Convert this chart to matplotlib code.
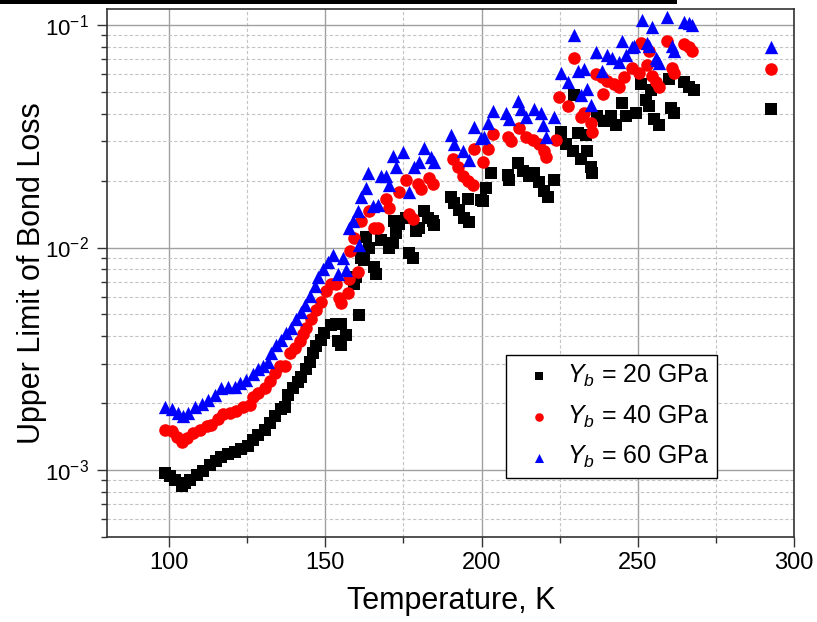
import matplotlib
matplotlib.use("Agg")
import matplotlib.pyplot as plt
from matplotlib.ticker import LogLocator, MultipleLocator, NullFormatter, LogFormatterSciNotation
from matplotlib.patches import Rectangle

plt.rcParams['font.family'] = ['Liberation Sans', 'DejaVu Sans']
plt.rcParams['mathtext.fontset'] = 'custom'
plt.rcParams['mathtext.rm'] = 'Liberation Sans'
plt.rcParams['mathtext.it'] = 'Liberation Sans:italic'
plt.rcParams['mathtext.bf'] = 'Liberation Sans:bold'

# ---------------- data ----------------
T_20 = [98.6, 100.2, 101.8, 104.0, 105.0, 106.6, 108.8, 110.8, 113.0, 115.1, 116.7, 118.8, 121.0,
        123.1, 125.1, 126.7, 128.3, 130.6, 132.2, 133.8, 135.9, 137.0, 137.9, 139.5, 141.1, 142.3,
        143.9, 145.0, 145.9, 147.1, 148.7, 149.7, 151.9, 153.5, 155.1, 156.7, 153.9, 155.1, 159.3,
        159.9, 160.9, 161.5, 162.5, 163.1, 164.1, 165.7, 166.3, 167.9, 170.5, 171.5, 172.1, 172.7,
        173.7, 175.8, 176.9, 178.0, 179.0, 180.1, 181.7, 182.7, 184.3, 184.9, 190.2, 191.3, 192.9,
        194.5, 195.5, 196.1, 199.8, 200.3, 201.4, 203.0, 208.3, 208.8, 211.5, 213.1, 215.2, 216.8,
        218.4, 220.0, 221.1, 223.2, 225.4, 227.0, 229.1, 229.6, 230.7, 231.8, 233.4, 233.9, 235.0,
        235.5, 237.1, 239.2, 241.3, 242.9, 245.0, 246.1, 249.3, 250.9, 252.5, 253.6, 254.1, 255.2,
        256.8, 260.0, 260.5, 261.6, 264.8, 266.4, 268.0, 292.5]
Y_20 = [9.7e-4, 9.4e-4, 9.0e-4, 8.5e-4, 8.7e-4, 9.0e-4, 9.5e-4, 9.9e-4, 1.05e-3, 1.10e-3, 1.15e-3,
        1.18e-3, 1.20e-3, 1.24e-3, 1.28e-3, 1.37e-3, 1.44e-3, 1.52e-3, 1.62e-3, 1.75e-3, 1.89e-3,
        1.91e-3, 2.17e-3, 2.34e-3, 2.49e-3, 2.63e-3, 2.84e-3, 3.06e-3, 3.34e-3, 3.60e-3, 3.84e-3,
        4.14e-3, 4.47e-3, 4.51e-3, 4.51e-3, 4.04e-3, 3.79e-3, 3.64e-3, 6.86e-3, 7.34e-3, 4.99e-3,
        8.95e-3, 8.79e-3, 1.12e-2, 9.97e-3, 8.18e-3, 7.62e-3, 1.08e-2, 1.0e-2, 1.05e-2, 1.32e-2,
        1.16e-2, 1.28e-2, 1.36e-2, 9.45e-3, 8.95e-3, 1.19e-2, 1.23e-2, 1.46e-2, 1.36e-2, 1.32e-2,
        1.26e-2, 1.69e-2, 1.58e-2, 1.48e-2, 1.36e-2, 1.66e-2, 1.30e-2, 1.63e-2, 1.61e-2, 1.86e-2,
        2.16e-2, 2.12e-2, 2.02e-2, 2.39e-2, 2.20e-2, 2.09e-2, 2.16e-2, 1.96e-2, 1.80e-2, 1.69e-2,
        2.02e-2, 3.32e-2, 2.91e-2, 2.72e-2, 4.84e-2, 3.27e-2, 2.51e-2, 3.21e-2, 2.72e-2, 2.31e-2,
        2.16e-2, 3.91e-2, 3.72e-2, 3.91e-2, 3.54e-2, 4.46e-2, 3.91e-2, 4.03e-2, 5.43e-2, 4.61e-2,
        4.31e-2, 5.09e-2, 3.78e-2, 3.54e-2, 5.71e-2, 4.25e-2, 4.03e-2, 5.52e-2, 5.26e-2, 5.09e-2,
        4.18e-2]

T_40 = [98.6, 100.8, 102.4, 104.0, 105.6, 107.7, 109.8, 112.0, 113.5, 115.7, 117.3, 119.4, 121.5,
        123.6, 125.8, 126.8, 128.4, 130.6, 132.2, 133.8, 135.4, 137.0, 138.6, 140.2, 141.8, 142.8,
        143.9, 145.5, 147.1, 148.7, 150.3, 151.9, 153.5, 154.5, 155.1, 157.2, 157.7, 158.0, 159.3,
        160.4, 161.4, 164.1, 165.7, 166.8, 169.5, 170.5, 173.7, 175.8, 176.9, 178.0, 179.6, 180.6,
        183.3, 184.3, 190.7, 192.3, 193.9, 195.5, 197.1, 197.6, 200.3, 201.9, 203.5, 208.3, 209.4,
        212.0, 214.2, 216.3, 218.4, 220.0, 220.6, 223.8, 224.8, 227.5, 229.6, 231.8, 232.8, 235.0,
        235.5, 236.5, 238.7, 239.0, 240.3, 242.4, 244.0, 245.6, 248.3, 250.4, 250.9, 253.0, 253.6,
        254.6, 255.7, 256.8, 259.4, 261.0, 261.6, 264.8, 266.4, 267.4, 292.5]
Y_40 = [1.52e-3, 1.49e-3, 1.41e-3, 1.34e-3, 1.39e-3, 1.46e-3, 1.52e-3, 1.57e-3, 1.60e-3, 1.69e-3,
        1.78e-3, 1.81e-3, 1.85e-3, 1.91e-3, 1.95e-3, 2.13e-3, 2.21e-3, 2.33e-3, 2.50e-3, 2.74e-3,
        2.94e-3, 2.94e-3, 3.34e-3, 3.52e-3, 3.79e-3, 4.07e-3, 4.37e-3, 4.78e-3, 5.23e-3, 5.71e-3,
        6.37e-3, 6.86e-3, 6.86e-3, 5.92e-3, 5.61e-3, 6.25e-3, 7.21e-3, 9.61e-3, 1.10e-2, 7.75e-3,
        1.32e-2, 1.46e-2, 1.22e-2, 1.23e-2, 1.66e-2, 1.50e-2, 1.77e-2, 2.02e-2, 1.41e-2, 1.34e-2,
        1.93e-2, 1.83e-2, 2.06e-2, 1.93e-2, 2.51e-2, 2.31e-2, 2.09e-2, 1.99e-2, 1.90e-2, 2.77e-2,
        2.43e-2, 2.77e-2, 3.24e-2, 3.15e-2, 3.00e-2, 3.43e-2, 3.15e-2, 3.05e-2, 2.91e-2, 2.72e-2,
        2.55e-2, 3.05e-2, 4.76e-2, 4.31e-2, 7.08e-2, 3.85e-2, 4.03e-2, 3.61e-2, 3.32e-2, 6.00e-2,
        5.81e-2, 4.92e-2, 5.62e-2, 5.43e-2, 5.26e-2, 5.81e-2, 6.41e-2, 6.10e-2, 8.34e-2, 6.62e-2,
        7.68e-2, 5.91e-2, 5.52e-2, 5.26e-2, 8.48e-2, 6.41e-2, 6.10e-2, 8.20e-2, 7.94e-2, 7.68e-2,
        6.35e-2]

T_60 = [98.6, 100.8, 102.9, 104.5, 106.1, 108.2, 110.4, 112.5, 114.6, 116.7, 118.9, 121.0, 122.6,
        124.7, 126.8, 128.4, 130.0, 131.6, 132.7, 134.3, 135.9, 137.5, 139.1, 140.7, 142.3, 143.4,
        145.0, 146.6, 147.6, 149.2, 150.8, 152.4, 154.0, 155.6, 156.7, 157.7, 158.8, 160.4, 160.9,
        161.5, 163.1, 163.6, 165.2, 166.8, 167.9, 169.5, 170.5, 171.6, 172.7, 174.8, 176.9, 178.5,
        180.1, 181.7, 183.8, 184.9, 190.2, 191.3, 193.9, 196.1, 197.7, 199.8, 200.9, 201.9, 203.5,
        207.8, 208.8, 211.5, 212.6, 214.2, 216.8, 219.0, 219.5, 220.6, 223.2, 225.4, 227.5, 229.6,
        230.7, 231.8, 232.8, 233.9, 235.0, 236.5, 238.7, 240.3, 241.9, 244.0, 245.0, 246.1, 248.3,
        248.8, 251.4, 253.0, 253.6, 254.6, 255.7, 256.2, 256.8, 259.4, 261.0, 261.6, 264.8, 266.4,
        267.4, 292.5]
Y_60 = [1.91e-3, 1.88e-3, 1.81e-3, 1.75e-3, 1.81e-3, 1.91e-3, 1.99e-3, 2.06e-3, 2.17e-3, 2.33e-3,
        2.37e-3, 2.37e-3, 2.46e-3, 2.55e-3, 2.69e-3, 2.84e-3, 2.94e-3, 3.05e-3, 3.34e-3, 3.65e-3,
        3.85e-3, 4.14e-3, 4.37e-3, 4.78e-3, 5.13e-3, 5.52e-3, 6.03e-3, 6.71e-3, 7.34e-3, 8.04e-3,
        8.63e-3, 9.27e-3, 7.62e-3, 8.95e-3, 7.89e-3, 1.22e-2, 1.32e-2, 1.46e-2, 1.03e-2, 1.69e-2,
        1.86e-2, 2.16e-2, 1.53e-2, 1.55e-2, 2.09e-2, 2.09e-2, 1.90e-2, 2.59e-2, 2.31e-2, 2.68e-2,
        1.77e-2, 2.31e-2, 2.43e-2, 2.81e-2, 2.55e-2, 2.43e-2, 3.21e-2, 2.91e-2, 2.72e-2, 2.47e-2,
        3.48e-2, 3.10e-2, 3.15e-2, 3.61e-2, 4.11e-2, 4.03e-2, 3.78e-2, 4.54e-2, 4.18e-2, 3.85e-2,
        4.18e-2, 4.03e-2, 3.54e-2, 3.15e-2, 3.85e-2, 6.10e-2, 5.52e-2, 9.06e-2, 6.21e-2, 4.84e-2,
        6.31e-2, 5.18e-2, 4.38e-2, 7.56e-2, 6.21e-2, 7.31e-2, 7.08e-2, 6.85e-2, 8.48e-2, 7.31e-2,
        7.94e-2, 8.07e-2, 0.105, 8.34e-2, 8.07e-2, 9.84e-2, 7.08e-2, 6.97e-2, 6.74e-2, 0.109,
        8.07e-2, 7.68e-2, 0.103, 0.102, 0.100, 8.0e-2]

labels = [r'$Y_b$ = 20 GPa', r'$Y_b$ = 40 GPa', r'$Y_b$ = 60 GPa']
x_label = 'Temperature, K'
y_label = 'Upper Limit of Bond Loss'

# ---------------- figure ----------------
fig = plt.figure(figsize=(8.17, 6.22), dpi=100)
ax = fig.add_axes([106.7 / 817, 1 - 537 / 622, (794 - 106.7) / 817, (537 - 9) / 622])

ax.set_yscale('log')
ax.set_xlim(80, 300)
ax.set_ylim(5e-4, 0.118)

ax.scatter(T_20, Y_20, marker='s', s=66, color='black', linewidths=0, label=labels[0], zorder=3)
ax.scatter(T_40, Y_40, marker='o', s=82, color='#ff0000', linewidths=0, label=labels[1], zorder=4)
ax.scatter(T_60, Y_60, marker='^', s=92, color='#0000ff', linewidths=0, label=labels[2], zorder=5)

# ticks
ax.xaxis.set_major_locator(MultipleLocator(50))
ax.xaxis.set_minor_locator(MultipleLocator(25))
ax.yaxis.set_major_locator(LogLocator(base=10, numticks=10))
ax.yaxis.set_minor_locator(LogLocator(base=10, subs=range(2, 10), numticks=20))
ax.yaxis.set_minor_formatter(NullFormatter())
ax.yaxis.set_major_formatter(LogFormatterSciNotation())

ax.tick_params(axis='both', which='major', direction='out', length=7, width=1.0, color='#333333')
ax.tick_params(axis='both', which='minor', direction='out', length=4.5, width=1.0, color='#333333')
ax.tick_params(axis='x', which='major', labelsize=17, pad=4)
ax.tick_params(axis='y', which='major', labelsize=16, pad=6)
ax.tick_params(top=False, right=False, which='both')

# grid
ax.grid(True, which='major', color='#a0a0a0', linestyle='-', linewidth=1.0, zorder=0)
ax.grid(True, which='minor', color='#c4c4c4', linestyle=(0, (3, 2)), linewidth=0.8, zorder=0)
ax.set_axisbelow(True)

for sp in ax.spines.values():
    sp.set_color('#333333')
    sp.set_linewidth(1.2)

ax.set_xlabel(x_label, fontsize=22)
ax.set_ylabel(y_label, fontsize=22)
ax.xaxis.set_label_coords(0.5017, -0.093)
ax.yaxis.set_label_coords(-0.087, 0.50)

leg = ax.legend(loc='lower left', bbox_to_anchor=(0.581, 0.112), fontsize=18, frameon=True,
                fancybox=False, shadow=False, framealpha=1, edgecolor='black', borderpad=0.3,
                handlelength=2.0, handletextpad=0.15, labelspacing=0.58, scatterpoints=1,
                markerscale=0.68, borderaxespad=0)
leg.get_frame().set_linewidth(1.0)
leg.set_zorder(10)

# black bar at the top edge of the image
fig.patches.append(Rectangle((0, 1 - 4 / 622), 677 / 817, 4 / 622, transform=fig.transFigure,
                             facecolor='black', edgecolor='none'))

fig.savefig('out.png', dpi=100)
